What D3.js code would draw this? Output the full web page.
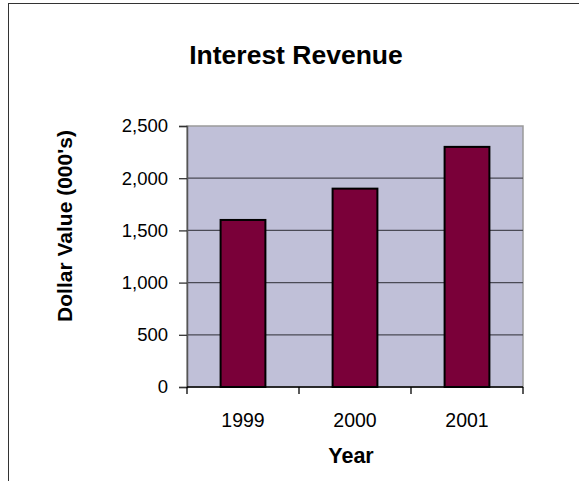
<!DOCTYPE html>
<html>
<head>
<meta charset="utf-8">
<script src="https://cdn.jsdelivr.net/npm/d3@7"></script>
<style>
  body { margin: 0; background: #fff; }
  svg { display: block; font-family: "Liberation Sans", Arial, sans-serif; }
</style>
</head>
<body>
<div id="chart"></div>
<script>
// chart data
const years = ["1999", "2000", "2001"];
const revenue = [1600, 1900, 2300];
const yTicks = [0, 500, 1000, 1500, 2000, 2500];

const width = 579, height = 481;
const margin = { top: 126, right: 56, bottom: 94, left: 187 };

const svg = d3.select("#chart").append("svg")
  .attr("width", width)
  .attr("height", height);

// outer chart frame (runs off the right / bottom edge)
svg.append("rect")
  .attr("x", 8.5).attr("y", 3.5)
  .attr("width", 700).attr("height", 600)
  .attr("fill", "none")
  .attr("stroke", "#333")
  .attr("stroke-width", 1);

const x = d3.scaleBand()
  .domain(years)
  .range([margin.left, width - margin.right])
  .paddingInner(0.6)
  .paddingOuter(0.3);

// category scale without padding, for the tick marks between groups
const xCat = d3.scaleBand()
  .domain(years)
  .range([margin.left, width - margin.right]);

const y = d3.scaleLinear()
  .domain([0, 2500])
  .range([height - margin.bottom, margin.top]);

const plot = svg.append("g");

// plot area background
plot.append("rect")
  .attr("x", margin.left)
  .attr("y", margin.top)
  .attr("width", width - margin.right - margin.left)
  .attr("height", height - margin.bottom - margin.top)
  .attr("fill", "#c0c0d8")
  .attr("stroke", "#9a9a9a")
  .attr("stroke-width", 1.5);

// gridlines
plot.append("g")
  .selectAll("line")
  .data(yTicks.filter(d => d > 0 && d < 2500))
  .join("line")
  .attr("x1", margin.left)
  .attr("x2", width - margin.right)
  .attr("y1", d => y(d))
  .attr("y2", d => y(d))
  .attr("stroke", "#4a4a55")
  .attr("stroke-width", 1.3);

// bars
plot.append("g")
  .selectAll("rect")
  .data(revenue)
  .join("rect")
  .attr("x", (d, i) => x(years[i]))
  .attr("y", d => y(d))
  .attr("width", x.bandwidth())
  .attr("height", d => y(0) - y(d))
  .attr("fill", "#7a0039")
  .attr("stroke", "#000")
  .attr("stroke-width", 2);

// y axis
const yAxis = d3.axisLeft(y)
  .tickValues(yTicks)
  .tickFormat(d3.format(","))
  .tickSize(8)
  .tickPadding(11);

const gy = svg.append("g")
  .attr("transform", `translate(${margin.left},0)`)
  .call(yAxis);
gy.select(".domain").attr("stroke", "#555").attr("stroke-width", 1.5);
gy.selectAll(".tick line").attr("stroke", "#333").attr("stroke-width", 1.3);
gy.selectAll(".tick text")
  .attr("font-size", 18.5)
  .attr("fill", "#000")
  .attr("font-family", "'Liberation Sans', Arial, sans-serif");

// x axis: tick marks at category boundaries, labels centred
const gx = svg.append("g")
  .attr("transform", `translate(0,${height - margin.bottom})`);
gx.append("line")
  .attr("x1", margin.left)
  .attr("x2", width - margin.right)
  .attr("stroke", "#000")
  .attr("stroke-width", 1.5);
const bounds = years.map(d => xCat(d)).concat([width - margin.right]);
gx.selectAll(".xtick")
  .data(bounds)
  .join("line")
  .attr("class", "xtick")
  .attr("x1", d => d).attr("x2", d => d)
  .attr("y1", 0).attr("y2", 7)
  .attr("stroke", "#000")
  .attr("stroke-width", 1.3);
gx.selectAll(".xlabel")
  .data(years)
  .join("text")
  .attr("class", "xlabel")
  .attr("x", d => xCat(d) + xCat.bandwidth() / 2)
  .attr("y", 40)
  .attr("text-anchor", "middle")
  .attr("font-size", 19.5)
  .text(d => d);

// titles
svg.append("text")
  .attr("x", 296)
  .attr("y", 64)
  .attr("text-anchor", "middle")
  .attr("font-size", 26.5)
  .attr("font-weight", "bold")
  .text("Interest Revenue");

svg.append("text")
  .attr("x", 351)
  .attr("y", 463)
  .attr("text-anchor", "middle")
  .attr("font-size", 21.5)
  .attr("font-weight", "bold")
  .text("Year");

svg.append("text")
  .attr("transform", "translate(72,226) rotate(-90)")
  .attr("text-anchor", "middle")
  .attr("font-size", 21)
  .attr("font-weight", "bold")
  .text("Dollar Value (000's)");
</script>
</body>
</html>
